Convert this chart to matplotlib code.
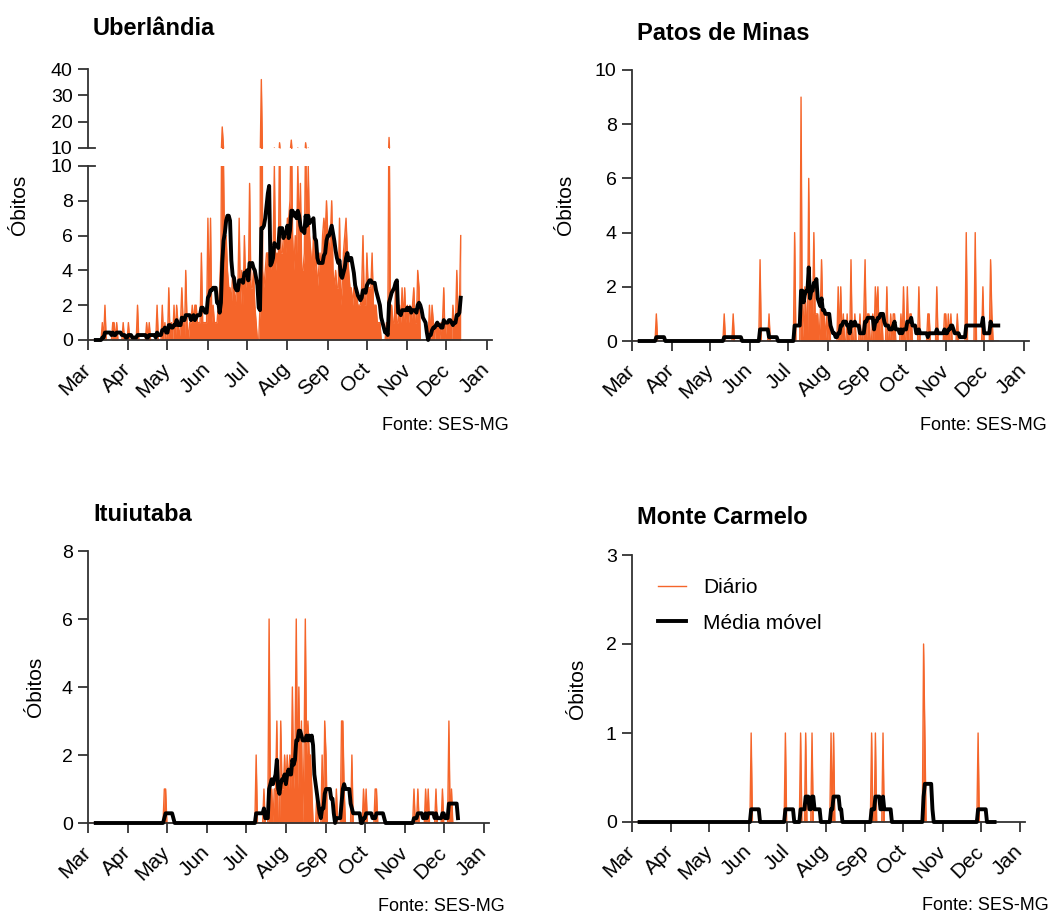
import matplotlib.pyplot as plt
import pandas as pd

plt.rcParams['font.family'] = ['Liberation Sans', 'DejaVu Sans']

ORANGE = '#F5652A'
AXIS = '#333333'
W, H = 1062, 915

month_labels = ['Mar', 'Apr', 'May', 'Jun', 'Jul', 'Aug', 'Sep', 'Oct', 'Nov', 'Dec', 'Jan']
month_ticks = pd.date_range('2020-03-01', '2021-01-01', freq='MS')

# daily deaths, Uberlândia, 1 Mar - 12 Dec 2020
uberlandia = [
    # Mar
    0, 0, 0, 0, 0, 0, 0, 0, 0, 0, 0, 1, 0, 2, 0, 0, 0, 0, 0, 1, 1, 0, 1, 0, 0, 0, 0, 1, 0, 0, 0,
    # Apr
    1, 0, 0, 0, 0, 0, 0, 2, 0, 0, 0, 0, 0, 0, 1, 0, 1, 0, 0, 0, 0, 0, 2, 0, 0, 0, 2, 0, 1, 0,
    # May
    0, 3, 0, 1, 0, 2, 0, 2, 1, 0, 1, 3, 1, 0, 4, 1, 0, 1, 1, 2, 1, 2, 2, 1, 1, 1, 5, 1, 1, 1, 1,
    # Jun
    7, 2, 7, 1, 2, 1, 1, 1, 2, 3, 5, 18, 10, 4, 6, 4, 3, 3, 2, 4, 3, 2, 3, 3, 7, 2, 4, 2, 6, 3,
    # Jul
    4, 3, 9, 3, 3, 4, 2, 1, 0, 0, 2, 36, 4, 3, 4, 5, 5, 5, 4, 5, 5, 10, 4, 5, 4, 12, 5, 5, 6, 6, 5,
    # Aug
    7, 7, 8, 13, 6, 4, 6, 5, 10, 6, 9, 4, 4, 5, 12, 6, 10, 6, 5, 4, 6, 4, 5, 3, 4, 5, 4, 6, 7, 6, 8,
    # Sep
    6, 5, 6, 8, 4, 3, 4, 3, 3, 7, 2, 3, 5, 6, 7, 5, 4, 3, 3, 2, 3, 2, 3, 2, 2, 2, 3, 6, 2, 2,
    # Oct
    5, 3, 3, 3, 5, 2, 2, 2, 1, 1, 1, 0, 0, 0, 0, 1, 0, 14, 2, 2, 1, 1, 3, 1, 1, 2, 1, 3, 1, 3, 1,
    # Nov
    2, 1, 2, 1, 2, 3, 1, 1, 4, 3, 0, 0, 0, 0, 0, 0, 0, 2, 0, 2, 1, 0, 1, 1, 1, 0, 1, 1, 3, 0,
    # Dec
    1, 1, 1, 1, 0, 2, 1, 1, 4, 1, 2, 6,
]

# the smaller cities: only the days with deaths (all other days are 0)
patos_days = ['03-20', '05-12', '05-19', '06-09', '06-16',
              '07-06', '07-11', '07-13', '07-14', '07-15', '07-17', '07-18', '07-19', '07-20',
              '07-21', '07-22', '07-23', '07-24', '07-26', '07-27', '07-28', '07-29', '07-31',
              '08-02', '08-09', '08-11', '08-13', '08-16', '08-19', '08-22', '08-26', '08-29', '08-30',
              '09-01', '09-02', '09-05', '09-07', '09-08', '09-09', '09-11', '09-12', '09-16',
              '09-19', '09-21', '09-22', '09-27', '09-29',
              '10-02', '10-04', '10-05', '10-11', '10-18', '10-19', '10-25', '10-31',
              '11-01', '11-03', '11-05', '11-10', '11-17', '11-24', '11-30', '12-06', '12-07']
patos_deaths = [1, 1, 1, 3, 1,
                4, 9, 1, 2, 1, 6, 1, 2, 1,
                4, 1, 1, 1, 1, 3, 1, 1, 1,
                1, 2, 2, 1, 1, 3, 1, 1, 1, 3,
                1, 1, 1, 2, 1, 2, 1, 1, 2,
                1, 1, 1, 1, 2,
                2, 1, 1, 2, 1, 1, 2, 1,
                1, 1, 1, 1, 4, 4, 2, 3, 1]

ituiutaba_days = ['04-29', '04-30', '07-09', '07-15', '07-19', '07-20', '07-21', '07-23', '07-24',
                  '07-25', '07-28', '07-29', '07-30', '07-31',
                  '08-01', '08-02', '08-03', '08-04', '08-05', '08-06', '08-07', '08-08', '08-09',
                  '08-10', '08-11', '08-12', '08-13', '08-15', '08-16', '08-17', '08-18', '08-19',
                  '08-20', '08-21', '08-25', '08-29', '08-31',
                  '09-01', '09-09', '09-13', '09-14', '09-15', '09-21', '09-30',
                  '10-02', '10-09', '10-10', '11-08', '11-11', '11-17', '11-19', '11-25', '11-30',
                  '12-05', '12-07']
ituiutaba_deaths = [1, 1, 2, 1, 6, 1, 1, 1, 1,
                    3, 3, 1, 1, 2,
                    1, 2, 1, 2, 1, 4, 1, 2, 6,
                    1, 4, 1, 3, 2, 6, 2, 3, 2,
                    2, 1, 1, 2, 3,
                    2, 1, 3, 3, 1, 2, 1,
                    1, 1, 1, 1, 1, 1, 1, 1, 1,
                    3, 1]

carmelo_days = ['06-03', '06-30', '07-12', '07-16', '07-21', '08-05', '08-07',
                '09-06', '09-09', '09-15', '10-17', '10-18', '11-29']
carmelo_deaths = [1, 1, 1, 1, 1, 1, 1,
                  1, 1, 1, 2, 1, 1]

days = pd.date_range('2020-03-01', periods=len(uberlandia), freq='D')
x_start, x_end = pd.Timestamp('2020-03-01'), pd.Timestamp('2021-01-05')


def sparse_series(day_list, deaths):
    s = pd.Series(0.0, index=days)
    s[pd.to_datetime(['2020-' + d for d in day_list])] = deaths
    return s


def add_box(left, top, right, bottom):
    return fig.add_axes([left / W, 1 - bottom / H, (right - left) / W, (bottom - top) / H])


def ftext(x, y, s, **kw):
    fig.text(x / W, 1 - y / H, s, **kw)


def style(ax, yticks, xaxis=True):
    for side in ['top', 'right']:
        ax.spines[side].set_visible(False)
    for side in ['left', 'bottom']:
        ax.spines[side].set_linewidth(1.3)
        ax.spines[side].set_color(AXIS)
    ax.tick_params(direction='out', length=7, width=1.3, color=AXIS, labelsize=14)
    ax.tick_params(axis='y', pad=4)
    ax.tick_params(axis='x', pad=12, labelsize=15)
    ax.set_xlim(x_start, x_end)
    ax.set_yticks(yticks)
    ax.set_ylim(yticks[0], yticks[-1])
    if xaxis:
        ax.set_xticks(month_ticks)
        ax.set_xticklabels(month_labels, rotation=45, ha='right', va='center', rotation_mode='anchor')
    else:
        ax.spines['bottom'].set_visible(False)
        ax.set_xticks([])


def draw(ax, s, ma=True):
    ax.fill_between(s.index, s.values, color=ORANGE, lw=0)
    daily_line, = ax.plot(s.index, s.values, color=ORANGE, lw=1.0)
    ma_line = None
    if ma:
        avg = s.rolling(7).mean()
        ma_line, = ax.plot(avg.index, avg.values, color='black', lw=2.8, clip_on=False, zorder=3)
    return daily_line, ma_line


fig = plt.figure(figsize=(W / 100, H / 100), dpi=100)

# Uberlândia (broken y axis)
s_ub = pd.Series(uberlandia, index=days, dtype=float)
ax_up = add_box(88, 69, 492, 148)
style(ax_up, [10, 20, 30, 40], xaxis=False)
draw(ax_up, s_ub, ma=False)
ax_ub = add_box(88, 166, 492, 340)
style(ax_ub, [0, 2, 4, 6, 8, 10])
draw(ax_ub, s_ub)
for a, y in [(ax_up, 0), (ax_ub, 1)]:
    a.plot([0, 0.018], [y, y], transform=a.transAxes, color=AXIS, lw=1.3, clip_on=False)
ftext(93, 35, 'Uberlândia', fontsize=17, fontweight='bold')
ftext(20, 205, 'Óbitos', fontsize=15, rotation=90, ha='center', va='center')
ftext(382, 430, 'Fonte: SES-MG', fontsize=13)

# Patos de Minas
ax_pm = add_box(632, 70, 1029, 341)
style(ax_pm, [0, 2, 4, 6, 8, 10])
draw(ax_pm, sparse_series(patos_days, patos_deaths))
ftext(637, 40, 'Patos de Minas', fontsize=17, fontweight='bold')
ftext(565, 205, 'Óbitos', fontsize=15, rotation=90, ha='center', va='center')
ftext(920, 430, 'Fonte: SES-MG', fontsize=13)

# Ituiutaba
ax_it = add_box(88, 551, 489, 823)
style(ax_it, [0, 2, 4, 6, 8])
draw(ax_it, sparse_series(ituiutaba_days, ituiutaba_deaths))
ftext(93, 521, 'Ituiutaba', fontsize=17, fontweight='bold')
ftext(35, 687, 'Óbitos', fontsize=15, rotation=90, ha='center', va='center')
ftext(378, 911, 'Fonte: SES-MG', fontsize=13)

# Monte Carmelo
ax_mc = add_box(632, 555, 1025, 822)
style(ax_mc, [0, 1, 2, 3])
l_daily, l_ma = draw(ax_mc, sparse_series(carmelo_days, carmelo_deaths))
ftext(637, 524, 'Monte Carmelo', fontsize=17, fontweight='bold')
ftext(578, 689, 'Óbitos', fontsize=15, rotation=90, ha='center', va='center')
ftext(922, 910, 'Fonte: SES-MG', fontsize=13)
ax_mc.legend([l_daily, l_ma], ['Diário', 'Média móvel'], loc='upper left',
             bbox_to_anchor=(658 / W, 1 - 578 / H), bbox_transform=fig.transFigure,
             frameon=False, fontsize=15, handlelength=1.35, handletextpad=0.8,
             labelspacing=0.8, borderpad=0, borderaxespad=0)

fig.savefig('out.png', dpi=100)
